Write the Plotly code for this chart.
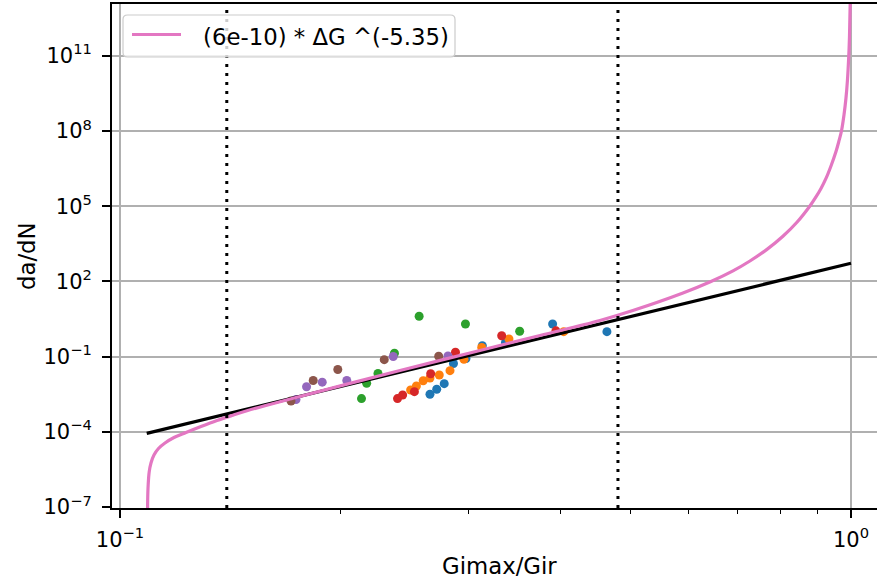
import plotly.graph_objects as go

# ---- data ----
blue_x = [0.2655, 0.2712, 0.2777, 0.2859, 0.2974, 0.3131, 0.3368, 0.3907, 0.4636]
blue_y = [3.14e-3, 4.98e-3, 8.32e-3, 5.32e-2, 8.43e-2, 0.274, 0.366, 2.01, 0.989]

orange_x = [0.2498, 0.2544, 0.2599, 0.2655, 0.2734, 0.2828, 0.2955, 0.3125, 0.3405, 0.4046]
orange_y = [4.67e-3, 6.73e-3, 1.09e-2, 1.41e-2, 1.85e-2, 2.75e-2, 7.83e-2, 0.232, 0.506, 0.989]

green_x = [0.2140, 0.2175, 0.2254, 0.2374, 0.2566, 0.2969, 0.3522]
green_y = [2.12e-3, 8.63e-3, 2.12e-2, 0.136, 4.07, 2.01, 1.03]

red_x = [0.2397, 0.2436, 0.2528, 0.2661, 0.2877, 0.3328, 0.3948]
red_y = [2.12e-3, 2.94e-3, 3.99e-3, 2.08e-2, 0.149, 0.679, 1.07]

purple_x = [0.1741, 0.1800, 0.1891, 0.2043, 0.2365, 0.2810]
purple_y = [1.95e-3, 6.31e-3, 9.55e-3, 1.12e-2, 0.101, 0.106]

brown_x = [0.1714, 0.1838, 0.1986, 0.2299, 0.2729]
brown_y = [1.70e-3, 1.12e-2, 3.07e-2, 7.55e-2, 0.103]

fit_x = [0.1088, 1.0]
fit_y = [8.7e-5, 531.0]

model_label = "(6e-10) * ΔG ^(-5.35)"
model_x = [0.10908, 0.10912, 0.10929, 0.10964, 0.11026, 0.11131, 0.11290, 0.11524,
           0.11855, 0.12312, 0.12907, 0.13573, 0.14230, 0.14918, 0.1655, 0.2416,
           0.3011, 0.3755, 0.4535, 0.5030, 0.5891, 0.6434, 0.6896, 0.7274, 0.7675,
           0.8071, 0.8435, 0.8787, 0.8956, 0.9099, 0.9243, 0.9390, 0.9539, 0.9629,
           0.9705, 0.9782, 0.9844, 0.9890, 0.99309, 0.99529, 0.99749, 0.99906]
model_y = [1.2e-8, 1.9e-7, 7.55e-7, 2.5e-6, 5.7e-6, 1.19e-5, 2.16e-5, 3.58e-5,
           5.93e-5, 9.40e-5, 1.63e-4, 2.83e-4, 4.48e-4, 6.90e-4, 1.59e-3, 2.80e-2,
           0.140, 0.697, 2.77, 6.93, 34.7, 99.6, 264, 655, 1901,
           6340, 2.30e4, 1.03e5, 2.35e5, 5.13e5, 1.29e6, 4.05e6, 1.53e7, 4.03e7,
           1.01e8, 4.39e8, 2.09e9, 1.09e10, 9.9e10, 5.69e11, 1.18e13, 1.28e15]

vlines_x = [0.14, 0.48]

x_tickvals = [0.1, 1.0]
x_ticktext = ["10<sup>−1</sup>", "10<sup>0</sup>"]
x_minor = [0.2, 0.3, 0.4, 0.5, 0.6, 0.7, 0.8, 0.9]
y_tickvals = [1e-7, 1e-4, 1e-1, 1e2, 1e5, 1e8, 1e11]
y_ticktext = ["10<sup>−7</sup>", "10<sup>−4</sup>", "10<sup>−1</sup>", "10<sup>2</sup>",
              "10<sup>5</sup>", "10<sup>8</sup>", "10<sup>11</sup>"]

FONT = "DejaVu Sans"
W, H = 877, 583
ML, MR, MT, MB = 112, 0, 4, 75
PW = W - ML - MR
PH = H - MT - MB


def px_x(p):
    return (p - ML) / PW


def px_y(p):
    return (MT + PH - p) / PH


fig = go.Figure()

series = [
    (blue_x, blue_y, "#1f77b4"),
    (orange_x, orange_y, "#ff7f0e"),
    (green_x, green_y, "#2ca02c"),
    (red_x, red_y, "#d62728"),
    (purple_x, purple_y, "#9467bd"),
    (brown_x, brown_y, "#8c564b"),
]
for sx, sy, c in series:
    fig.add_trace(go.Scatter(x=sx, y=sy, mode="markers", showlegend=False,
                             marker=dict(color=c, size=9, line=dict(width=0))))

fig.add_trace(go.Scatter(x=fit_x, y=fit_y, mode="lines", showlegend=False,
                         line=dict(color="black", width=3.2)))
fig.add_trace(go.Scatter(x=model_x, y=model_y, mode="lines", name=model_label,
                         showlegend=False,
                         line=dict(color="#e377c2", width=3.2, shape="spline",
                                   smoothing=1.0, simplify=False)))

for vx in vlines_x:
    fig.add_shape(type="line", xref="x", yref="paper", x0=vx, x1=vx, y0=0, y1=1,
                  line=dict(color="black", width=3, dash="3px,6px"), layer="above")

# legend box (matplotlib style, rounded corners)
lx0, lx1, ly0, ly1, r = 123, 455, 15, 57, 4.5
rx, ry = r / PW, r / PH
X0, X1, Y0, Y1 = px_x(lx0), px_x(lx1), px_y(ly1), px_y(ly0)
path = (f"M {X0+rx},{Y0} L {X1-rx},{Y0} Q {X1},{Y0} {X1},{Y0+ry} "
        f"L {X1},{Y1-ry} Q {X1},{Y1} {X1-rx},{Y1} "
        f"L {X0+rx},{Y1} Q {X0},{Y1} {X0},{Y1-ry} "
        f"L {X0},{Y0+ry} Q {X0},{Y0} {X0+rx},{Y0} Z")
fig.add_shape(type="path", xref="paper", yref="paper", path=path,
              fillcolor="rgba(255,255,255,0.8)", line=dict(color="#cccccc", width=1.2),
              layer="above")
fig.add_shape(type="line", xref="paper", yref="paper",
              x0=px_x(132), x1=px_x(181), y0=px_y(34.5), y1=px_y(34.5),
              line=dict(color="#e377c2", width=3.2), layer="above")

fig.update_layout(
    width=W, height=H,
    margin=dict(l=ML, r=MR, t=MT, b=MB, pad=0),
    paper_bgcolor="white", plot_bgcolor="white",
    font=dict(family=FONT, size=21, color="black"),
    showlegend=False,
    xaxis=dict(type="log", range=[-1.0109, 0.0356],
               tickvals=x_tickvals, ticktext=x_ticktext,
               ticks="outside", ticklen=8, tickwidth=1.8, tickcolor="black",
               showline=True, linecolor="black", linewidth=1.8, mirror=True,
               showgrid=True, gridcolor="#b0b0b0", gridwidth=1.8,
               zeroline=False, ticklabelstandoff=4,
               tickfont=dict(family=FONT, size=21),
               minor=dict(tickvals=x_minor, ticks="outside", ticklen=4.5, tickwidth=1.4,
                          tickcolor="black", showgrid=False)),
    yaxis=dict(type="log", range=[-7.04, 13.07],
               tickvals=y_tickvals, ticktext=y_ticktext,
               ticks="outside", ticklen=8, tickwidth=1.8, tickcolor="black",
               showline=True, linecolor="black", linewidth=1.8, mirror=False,
               showgrid=True, gridcolor="#b0b0b0", gridwidth=1.8,
               zeroline=False, ticklabelstandoff=6,
               tickfont=dict(family=FONT, size=21)),
    annotations=[
        dict(text=model_label, xref="paper", yref="paper",
             x=px_x(201), y=px_y(36.5), xanchor="left", yanchor="middle",
             showarrow=False, font=dict(family=FONT, size=22.8, color="black")),
        dict(text="Gimax/Gir", xref="paper", yref="paper",
             x=px_x(499), y=px_y(566),
             xanchor="center", yanchor="middle", showarrow=False,
             font=dict(family=FONT, size=22.8)),
        dict(text="da/dN", xref="paper", yref="paper",
             x=px_x(27), y=0.5, textangle=-90,
             xanchor="center", yanchor="middle", showarrow=False,
             font=dict(family=FONT, size=22.8)),
    ],
)

fig.write_html("out.html")
